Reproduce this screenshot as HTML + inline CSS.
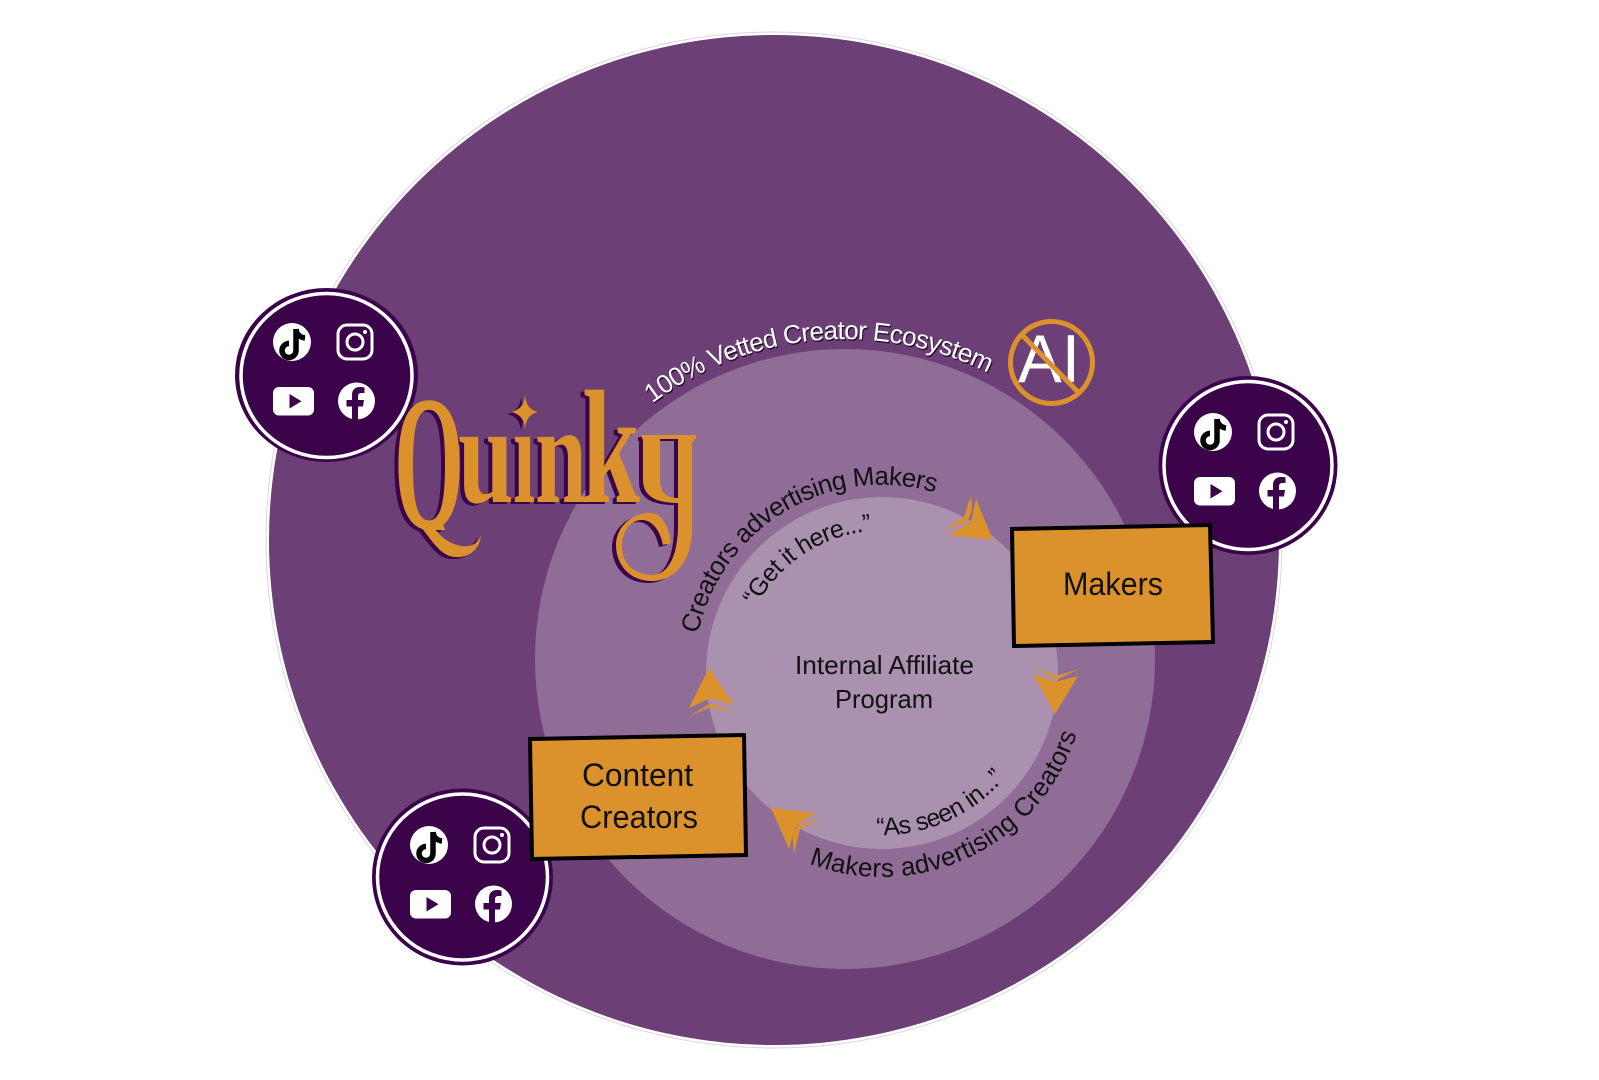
<!DOCTYPE html>
<html><head><meta charset="utf-8"><title>Quinky</title>
<style>
html,body{margin:0;padding:0;background:#fff}
svg{display:block}
text{font-family:"Liberation Sans",sans-serif}
.q{font-family:"Liberation Serif",serif;font-weight:bold;font-size:100px}
</style></head><body>
<svg width="1599" height="1080" viewBox="0 0 1599 1080" xmlns="http://www.w3.org/2000/svg">
<defs>
<path id="a1" d="M652.4 403.4A320 320 0 0 1 1005 382"/>
<path id="a2" d="M698 634A188 188 0 0 1 937 493"/>
<path id="a3" d="M756.6 606A142 142 0 0 1 872 531"/>
<path id="a4" d="M809 863.5A204 204 0 0 0 1077 732.6"/>
<path id="a5" d="M876 835A162 162 0 0 0 1006 777"/>
<clipPath id="cq"><rect x="380" y="380" width="100" height="150"/></clipPath>
<clipPath id="ci"><rect x="500" y="432" width="50" height="90"/></clipPath>
<clipPath id="cy"><rect x="640" y="430" width="20" height="60"/><rect x="678" y="430" width="18" height="76"/></clipPath>
<g id="icons">
  <circle cx="292" cy="342" r="19" fill="#fff"/>
  <path d="M296 329v21.500a7 7 0 1 1-7-7" fill="none" stroke="#000" stroke-width="5.500"/>
  <path d="M296 329c.5 5 4 8.500 9 9" fill="none" stroke="#000" stroke-width="5.500"/>
  <rect x="338" y="325" width="34" height="34" rx="9" fill="none" stroke="#fff" stroke-width="3"/>
  <circle cx="355" cy="342" r="8" fill="none" stroke="#fff" stroke-width="3"/>
  <circle cx="365" cy="332" r="2" fill="#fff"/>
  <rect x="273" y="387" width="41" height="28.500" rx="6" fill="#fff"/>
  <path d="M289.500 394v14.500l12-7.200z" fill="#3b0349"/>
  <circle cx="356.500" cy="401" r="18.500" fill="#fff"/>
  <path d="M352 419.500v-13h-5.500v-6.500h5.500v-5c0-5 3-8 8-8 2 0 4 .3 4.500.5v5.500h-3c-2.500 0-3.500 1.200-3.500 3.500v3.500h6l-1 6.500h-5v13z" fill="#3b0349"/>
</g>
<g id="quinky">
  <g clip-path="url(#cq)"><text class="q" transform="translate(394 528) scale(.9 1.93)">Q</text></g>
  <path d="M420 526L432 524C440 540 460 550 472 545C478 543 480 538 481 535C480 550 468 558 455 557C440 556 432 540 420 526Z"/>
  <text class="q" transform="translate(458 502) scale(1 1.42)">u</text>
  <g clip-path="url(#ci)"><text class="q" transform="translate(513 502) scale(.8 1.42)">i</text></g>
  <text class="q" transform="translate(535 502) scale(.93 1.42)">n</text>
  <text class="q" transform="translate(582 502) scale(1.04 1.62)">k</text>
  <g clip-path="url(#cy)"><text class="q" transform="translate(642 502) scale(1.06 1.42)">y</text></g>
  <path d="M642 435H668V439H660V480C660 492 666 498 678 498V503C656 503 643 496 643 480V439H642Z"/>
  <path d="M668 435H696V439H692V530C692 560 675 581 652 581C630 581 616 565 616 545C616 527 632 513 650 513C660 513 668 522 671 543L663 545C660 530 652 520 642 520C630 520 622 532 622 546C622 565 636 575 652 575C668 575 678 556 678 525V439H668Z"/>
  <path d="M525 395C526 405 530 410 538 412C530 414 526 419 525 429C524 419 520 414 511 412C520 410 524 405 525 395Z"/>
</g>
</defs>
<rect width="1599" height="1080" fill="#fff"/>
<circle cx="774" cy="540" r="508" fill="none" stroke="#ddd3df" stroke-width="1"/>
<circle cx="774" cy="540" r="505" fill="#6c3f76"/>
<circle cx="845" cy="659" r="310" fill="#906d97"/>
<circle cx="882" cy="673" r="176" fill="#aa91b0"/>

<ellipse cx="326.500" cy="375" rx="91.500" ry="87" fill="#3b0349"/>
<ellipse cx="326.500" cy="375.500" rx="85.500" ry="82" fill="none" stroke="#fff" stroke-width="3.500"/>
<use href="#icons"/>
<ellipse cx="1248" cy="465.500" rx="89.500" ry="89.500" fill="#3b0349"/>
<ellipse cx="1248" cy="465.500" rx="84" ry="84" fill="none" stroke="#fff" stroke-width="3.500"/>
<use href="#icons" transform="translate(921 90)"/>
<ellipse cx="462.500" cy="877" rx="90.500" ry="88.500" fill="#3b0349"/>
<ellipse cx="462.500" cy="877" rx="85" ry="83" fill="none" stroke="#fff" stroke-width="3.500"/>
<use href="#icons" transform="translate(137 503)"/>

<use href="#quinky" fill="#3b0349" transform="translate(-4 2)"/>
<use href="#quinky" fill="#db922c"/>

<!-- curved labels -->
<text font-size="26" fill="#2a1030" transform="translate(1 1.500)"><textPath href="#a1" textLength="355">100% Vetted Creator Ecosystem</textPath></text>
<text font-size="26" fill="#fff"><textPath href="#a1" textLength="355">100% Vetted Creator Ecosystem</textPath></text>
<text font-size="26" fill="#111"><textPath href="#a2" textLength="310">Creators advertising Makers</textPath></text>
<text font-size="25" fill="#111"><textPath href="#a3" textLength="143">“Get it here...”</textPath></text>
<text font-size="26" fill="#111"><textPath href="#a4" textLength="333">Makers advertising Creators</textPath></text>
<text font-size="25" fill="#111"><textPath href="#a5" textLength="146">“As seen in...”</textPath></text>

<!-- No AI -->
<text x="1018" y="382" font-size="68" fill="#fff" textLength="62" lengthAdjust="spacingAndGlyphs">AI</text>
<circle cx="1051.500" cy="362.500" r="41" fill="none" stroke="#db922c" stroke-width="5"/>
<line x1="1023" y1="336" x2="1078" y2="392" stroke="#db922c" stroke-width="5"/>

<!-- arrowheads -->
<g fill="#db922c">
  <path d="M993 540L976 499L971 522L948 535Z"/>
  <path d="M971 495L972 510L968 521L943 531L964 517Z"/>
  <path d="M1055 714L1033 674L1055 682L1078 676Z"/>
  <path d="M1033 667L1056 676L1079 669L1056 680Z"/>
  <path d="M771 808L815 813L795 827L789 849Z"/>
  <path d="M822 818L800 829L794 854L792 832L798 826Z"/>
  <path d="M709 668L734 705L711 698L689 708Z"/>
  <path d="M690 716L711 703L735 713L711 707Z"/>
</g>

<!-- boxes -->
<polygon points="1012,529 1210,525 1213,642 1014,646" fill="#db922c" stroke="#000" stroke-width="4"/>
<polygon points="530,739 744,735 746,855 532,859" fill="#db922c" stroke="#000" stroke-width="4"/>
<text x="1113" y="595" font-size="32" fill="#111" text-anchor="middle" textLength="100" lengthAdjust="spacingAndGlyphs">Makers</text>
<text x="637.500" y="786" font-size="32" fill="#111" text-anchor="middle" textLength="111" lengthAdjust="spacingAndGlyphs">Content</text>
<text x="639" y="828" font-size="32" fill="#111" text-anchor="middle" textLength="118" lengthAdjust="spacingAndGlyphs">Creators</text>
<text x="884.500" y="674" font-size="26" fill="#111" text-anchor="middle" textLength="179" lengthAdjust="spacingAndGlyphs">Internal Affiliate</text>
<text x="884" y="708" font-size="26" fill="#111" text-anchor="middle" textLength="98" lengthAdjust="spacingAndGlyphs">Program</text>
</svg>
</body></html>
